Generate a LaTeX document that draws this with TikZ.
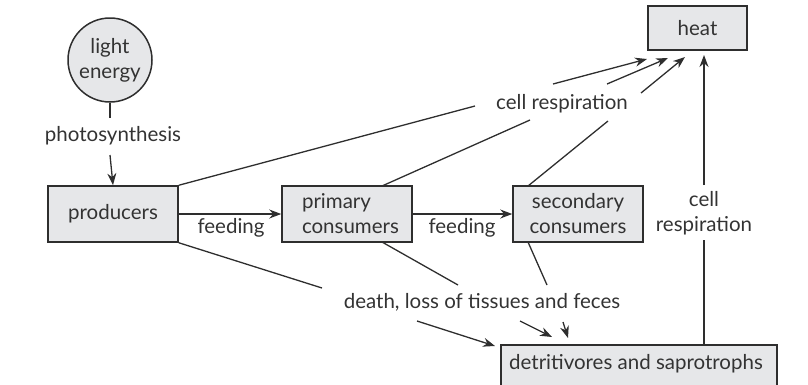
\documentclass[tikz,border=0pt]{standalone}
\usepackage{fontspec}
\setmainfont{Lato}
\usetikzlibrary{arrows.meta}
\definecolor{boxfill}{HTML}{E6E7E9}
\definecolor{ink}{HTML}{2E2E2E}
\definecolor{txt}{HTML}{333333}
\begin{document}
\begin{tikzpicture}[x=1pt,y=-1pt,
  font=\fontsize{20.5}{25}\selectfont, text=txt,
  box/.style={draw=ink, line width=1.5pt, fill=boxfill, inner sep=0pt, anchor=center},
  lbl/.style={inner sep=0pt, align=center, anchor=center},
  conn/.style={draw=ink, line width=1.3pt},
  arr/.style={conn, -{Stealth[length=12pt,width=9pt]}}]
\useasboundingbox (0,0) rectangle (808,384);
% nodes
\node[box, circle, minimum size=84pt, align=center] (light) at (110,60) {light\\energy};
\node[lbl] (photo) at (113,136) {photosynthesis};
\node[box, minimum width=130pt, minimum height=56pt] (prod) at (113,214) {producers};
\node[box, minimum width=130pt, minimum height=56pt, align=left, text width=120pt] (prim) at (347,214) {\hspace*{15pt}primary\\\hspace*{15pt}consumers};
\node[box, minimum width=130pt, minimum height=56pt, align=center] (sec) at (578,214) {secondary\\consumers};
\node[box, minimum width=99pt, minimum height=44pt] (heat) at (697.5,28) {heat};
\node[box, minimum width=276pt, minimum height=60pt, anchor=north west] (det) at (500,344) {};
\node[lbl] (detl) at (636,364) {detritivores and saprotrophs};
\node[lbl] (cr1) at (562,104) {cell respiration};
\node[lbl] (cr2) at (704,213) {cell\\respiration};
\node[lbl] (death) at (482,302) {death, loss of tissues and feces};
\node[lbl] (f1) at (231,228) {feeding};
\node[lbl] (f2) at (462,228) {feeding};
% coordinates
\coordinate (a1) at (475,106); \coordinate (a2) at (553,84); \coordinate (a3) at (647,59);
\coordinate (b0) at (382,186); \coordinate (b1) at (530,120); \coordinate (b2) at (607,84); \coordinate (b3) at (668,58);
\coordinate (c0) at (528,186); \coordinate (c1) at (608,121); \coordinate (c2) at (641,93); \coordinate (c3) at (685,57);
\coordinate (d1) at (322,288); \coordinate (d2) at (417,321); \coordinate (d3) at (495,346);
\coordinate (e0) at (382,242); \coordinate (e1) at (458,285); \coordinate (e2) at (520,321); \coordinate (e3) at (552,337);
\coordinate (g0) at (528,242); \coordinate (g1) at (547,285); \coordinate (g2) at (563,322); \coordinate (g3) at (568,338);
\coordinate (p1) at (110,118); \coordinate (p2) at (110,155);
\coordinate (h0) at (704,344); \coordinate (h1) at (704,240); \coordinate (h2) at (704,185); \coordinate (h3) at (704,55);
% connectors
\draw[conn] (light.south) -- (p1);
\draw[arr] (p2) -- (prod.north);
\draw[arr] (prod.east) -- (prim.west);
\draw[arr] (prim.east) -- (sec.west);
\draw[conn] (prod.north east) -- (a1);
\draw[arr] (a2) -- (a3);
\draw[conn] (b0) -- (b1);
\draw[arr] (b2) -- (b3);
\draw[conn] (c0) -- (c1);
\draw[arr] (c2) -- (c3);
\draw[conn] (prod.south east) -- (d1);
\draw[arr] (d2) -- (d3);
\draw[conn] (e0) -- (e1);
\draw[arr] (e2) -- (e3);
\draw[conn] (g0) -- (g1);
\draw[arr] (g2) -- (g3);
\draw[conn] (h0) -- (h1);
\draw[arr] (h2) -- (h3);
\end{tikzpicture}
\end{document}
